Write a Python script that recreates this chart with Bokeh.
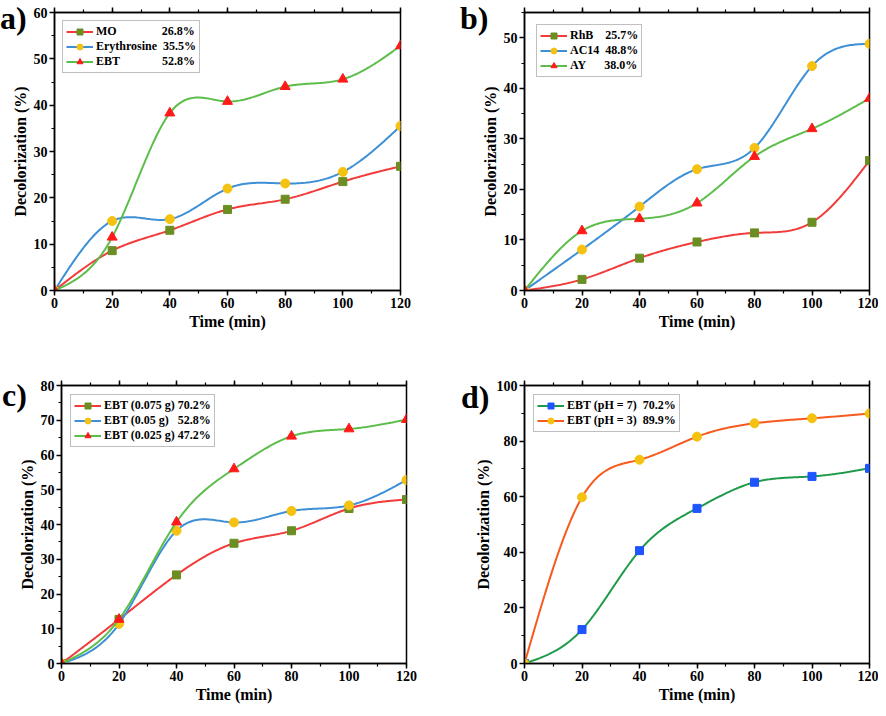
import numpy as np
from bokeh.plotting import figure
from bokeh.layouts import column, row
from bokeh.models import (Range1d, SingleIntervalTicker, LinearAxis, Legend, Div,
                          LegendItem, CustomLabelingPolicy)
from bokeh.embed import file_html
from bokeh.resources import INLINE

# ---------------- data ----------------
time_min = [0, 20, 40, 60, 80, 100, 120]

# panel a
mo = [0, 8.6, 13.0, 17.5, 19.7, 23.5, 26.8]
erythrosine = [0, 15.0, 15.4, 22.0, 23.1, 25.6, 35.5]
ebt = [0, 11.5, 38.3, 40.8, 44.0, 45.6, 52.8]
labels_a = ["MO" + "\u00a0" * 15 + "26.8%",
            "Erythrosine\u00a0\u00a035.5%",
            "EBT" + "\u00a0" * 14 + "52.8%"]

# panel b
rhb = [0, 2.2, 6.4, 9.6, 11.4, 13.5, 25.7]
ac14 = [0, 8.1, 16.6, 24.0, 28.2, 44.4, 48.8]
ay = [0, 11.8, 14.2, 17.3, 26.5, 32.0, 38.0]
labels_b = ["RhB" + "\u00a0" * 4 + "25.7%",
            "AC14\u00a0\u00a048.8%",
            "AY" + "\u00a0" * 6 + "38.0%"]

# panel c
ebt_0075 = [0, 12.7, 25.5, 34.6, 38.2, 44.6, 47.2]
ebt_005 = [0, 11.4, 38.2, 40.6, 43.9, 45.5, 52.8]
ebt_0025 = [0, 12.7, 40.7, 56.0, 65.4, 67.5, 70.2]
labels_c = ["EBT (0.075 g) 70.2%",
            "EBT (0.05 g)\u00a0\u00a0\u00a052.8%",
            "EBT (0.025 g) 47.2%"]

# panel d
ph7 = [0, 12.2, 40.6, 55.8, 65.2, 67.3, 70.2]
ph3 = [0, 59.8, 73.3, 81.6, 86.4, 88.2, 89.9]
labels_d = ["EBT (pH = 7)\u00a0\u00a070.2%",
            "EBT (pH = 3)\u00a0\u00a089.9%"]

panel_letters = ["a)", "b)", "c)", "d)"]
x_title = "Time (min)"
y_title = "Decolorization (%)"

FONT = "Liberation Serif"
RED = "#f23b3b"
BLUE = "#3d8fd6"
GREEN = "#5cbd4a"
OLIVE = "#6b8e23"
GOLD = "#f5c211"
TRI = "#ff1a1a"
DGREEN = "#1f9a4a"
SQBLUE = "#1f55ff"
ORANGE = "#f75a1e"


def natural_spline(x, y, n=241):
    x = np.asarray(x, float)
    y = np.asarray(y, float)
    k = len(x)
    h = np.diff(x)
    A = np.zeros((k, k))
    r = np.zeros(k)
    A[0, 0] = A[-1, -1] = 1
    for i in range(1, k - 1):
        A[i, i - 1] = h[i - 1]
        A[i, i] = 2 * (h[i - 1] + h[i])
        A[i, i + 1] = h[i]
        r[i] = 6 * ((y[i + 1] - y[i]) / h[i] - (y[i] - y[i - 1]) / h[i - 1])
    M = np.linalg.solve(A, r)
    xs = np.linspace(x[0], x[-1], n)
    idx = np.clip(np.searchsorted(x, xs, side="right") - 1, 0, k - 2)
    x0 = x[idx]
    x1 = x[idx + 1]
    hh = x1 - x0
    t0 = x1 - xs
    t1 = xs - x0
    ys = (M[idx] * t0 ** 3 / (6 * hh) + M[idx + 1] * t1 ** 3 / (6 * hh)
          + (y[idx] / hh - M[idx] * hh / 6) * t0
          + (y[idx + 1] / hh - M[idx + 1] * hh / 6) * t1)
    return xs, ys


def letter_div(text, left, top):
    return Div(text=text, styles={
        "position": "absolute", "left": f"{left}px", "top": f"{top}px",
        "font-family": FONT, "font-weight": "bold", "font-size": "32px",
        "line-height": "32px", "color": "black", "z-index": "10",
        "margin": "0px", "padding": "0px", "white-space": "nowrap",
        "width": "40px", "height": "40px", "overflow": "visible"})


def make_panel(width, height, bl, br, bt, bb, yend, yint, series, labels, leg_margin):
    p = figure(width=width, height=height, output_backend="svg",
               toolbar_location=None,
               x_range=Range1d(0, 120), y_range=Range1d(0, yend),
               min_border_left=bl, min_border_right=br,
               min_border_top=bt, min_border_bottom=bb)
    p.grid.visible = False
    p.outline_line_color = "black"
    p.outline_line_width = 1.5
    p.background_fill_color = "white"

    for ax, tick in ((p.xaxis, SingleIntervalTicker(interval=20, num_minor_ticks=2)),
                     (p.yaxis, SingleIntervalTicker(interval=yint, num_minor_ticks=2))):
        ax.ticker = tick
        ax.axis_line_width = 1.5
        ax.axis_line_color = "black"
        ax.major_tick_line_width = 1.5
        ax.minor_tick_line_width = 1.2
        ax.major_tick_in = 0
        ax.major_tick_out = 5
        ax.minor_tick_in = 0
        ax.minor_tick_out = 3
        ax.major_label_text_font = FONT
        ax.major_label_text_font_style = "bold"
        ax.major_label_text_font_size = "14px"
        ax.major_label_text_color = "black"
        ax.major_label_standoff = 2
        ax.axis_label_text_font = FONT
        ax.axis_label_text_font_style = "bold"
        ax.axis_label_text_font_size = "16px"
        ax.axis_label_text_color = "black"
        ax.axis_label_standoff = 2
    p.xaxis.axis_label = x_title
    p.yaxis.axis_label = y_title

    hide_all = CustomLabelingPolicy(code="for (const i of indices) indices.unset(i)")
    top = LinearAxis(ticker=SingleIntervalTicker(interval=20, num_minor_ticks=2),
                     major_label_policy=hide_all,
                     major_label_text_font_size="1px", major_label_standoff=0,
                     major_tick_in=0, major_tick_out=5, minor_tick_in=0,
                     minor_tick_out=3, axis_line_width=1.5,
                     major_tick_line_width=1.5, minor_tick_line_width=1.2)
    p.add_layout(top, "above")

    items = []
    for (yv, lc, mk, mc, ms), lab in zip(series, labels):
        xs, ys = natural_spline(time_min, yv)
        lr = p.line(xs, ys, line_color=lc, line_width=2)
        mr = p.scatter(time_min, yv, marker=mk, size=ms, fill_color=mc,
                       line_color=mc)
        items.append(LegendItem(label=lab, renderers=[lr, mr]))

    leg = Legend(items=items, location="top_left", margin=leg_margin,
                 padding=3, spacing=0, glyph_width=27, glyph_height=15,
                 label_height=15, label_standoff=3,
                 label_text_font=FONT, label_text_font_style="bold",
                 label_text_font_size="12px", label_text_color="black",
                 border_line_color="#808080", border_line_width=1.5,
                 background_fill_color="white", background_fill_alpha=1)
    p.add_layout(leg, "center")
    return p


# top row: frames 12..290 ; bottom row: frames 385..663
pa = make_panel(440, 336, 54, 40, 12, 46, 60, 10,
                [(mo, RED, "square", OLIVE, 8),
                 (erythrosine, BLUE, "circle", GOLD, 9),
                 (ebt, GREEN, "triangle", TRI, 10)],
                labels_a, 8)
pb = make_panel(438, 336, 84, 9, 12, 46, 55, 10,
                [(rhb, RED, "square", OLIVE, 8),
                 (ac14, BLUE, "circle", GOLD, 9),
                 (ay, GREEN, "triangle", TRI, 10)],
                labels_b, 12)
pc = make_panel(440, 371, 61, 34, 49, 44, 80, 10,
                [(ebt_0075, RED, "square", OLIVE, 8),
                 (ebt_005, BLUE, "circle", GOLD, 9),
                 (ebt_0025, GREEN, "triangle", TRI, 10)],
                labels_c, 9)
pd = make_panel(438, 371, 84, 9, 49, 44, 100, 20,
                [(ph7, DGREEN, "square", SQBLUE, 8),
                 (ph3, ORANGE, "circle", GOLD, 9)],
                labels_d, 9)

div_a = letter_div(panel_letters[0], 0, 2)
div_b = letter_div(panel_letters[1], 460, 2)
div_c = letter_div(panel_letters[2], 2, 379)
div_d = letter_div(panel_letters[3], 461, 381)

layout = column(div_a, div_b, div_c, div_d, row(pa, pb), row(pc, pd))
open("out.html", "w").write(file_html(layout, INLINE))
